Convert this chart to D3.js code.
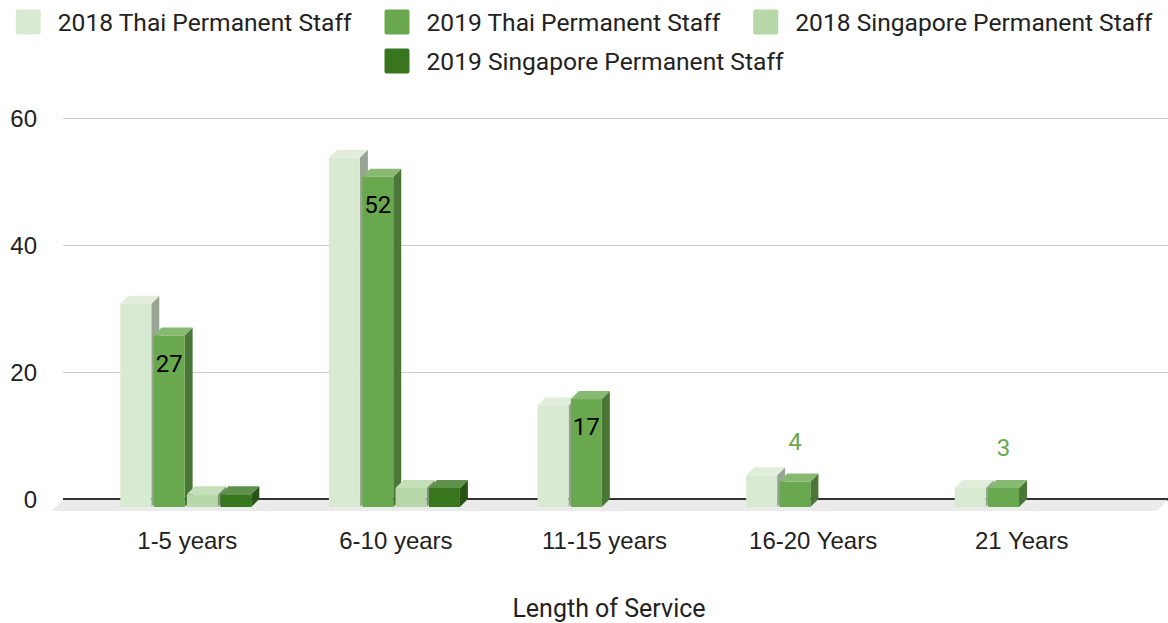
<!DOCTYPE html>
<html lang="en">
<head>
<meta charset="UTF-8">
<title>Length of Service</title>
<style>
  body { margin: 0; background: #fff; }
  svg { display: block; font-family: Roboto, "Noto Sans", sans-serif; }
  .grid line { stroke: #cccccc; shape-rendering: crispEdges; }
  .grid text, .xaxis text { fill: #222; font-size: 24px; }
</style>
</head>
<body>
<div id="chart"></div>
<script src="https://d3js.org/d3.v7.min.js"></script>
<script>
// data
var categories = ["1-5 years", "6-10 years", "11-15 years", "16-20 Years", "21 Years"];
var seriesNames = ["2018 Thai Permanent Staff", "2019 Thai Permanent Staff",
                   "2018 Singapore Permanent Staff", "2019 Singapore Permanent Staff"];
var thai2018 = [32, 55, 16, 5, 3];
var thai2019 = [27, 52, 17, 4, 3];
var sing2018 = [2, 3, null, null, null];
var sing2019 = [2, 3, null, null, null];
var yTicks = [0, 20, 40, 60];
var colors = ["#d9ead3", "#6aa84f", "#b6d7a8", "#38761d"];

var allSeries = [thai2018, thai2019, sing2018, sing2019];

var width = 1168, height = 623;
var depth = 8; // 3d offset
var plot = { left: 63, right: 1168, top: 118, bottom: 499 };

var svg = d3.select("#chart").append("svg")
    .attr("width", width).attr("height", height);

var y = d3.scaleLinear().domain([0, 60]).range([plot.bottom, plot.top]);

// x on the front plane
var x0 = d3.scaleBand().domain(categories).range([83, 1126]);
var groupW = 131;
var x1 = d3.scaleBand().domain(d3.range(seriesNames.length)).range([0, groupW]).paddingInner(0.07);
function groupX(cat) { return x0(cat) + (x0.bandwidth() - groupW) / 2 - 1.5; }

// gridlines + y labels
var grid = svg.append("g")
    .attr("class", "grid")
    .attr("transform", "translate(" + plot.left + ",0)")
    .call(d3.axisLeft(y).tickValues(yTicks).tickSize(-(plot.right - plot.left)).tickPadding(26));
grid.select(".domain").remove();
grid.selectAll("text").attr("dy", "0.35em");
grid.selectAll(".tick").filter(function(d) { return d === 0; }).select("line")
    .style("stroke", "#333").style("stroke-width", 2);

// floor
var fy = y(0);
svg.append("polygon")
    .attr("points", [[plot.left, fy + 1], [plot.right, fy + 1], [plot.right - 12, fy + 12], [plot.left - 12, fy + 12]]
        .map(function(p) { return p.join(","); }).join(" "))
    .attr("fill", "#ebebeb");
// redraw zero line over floor
svg.append("line")
    .attr("x1", plot.left).attr("x2", plot.right)
    .attr("y1", fy).attr("y2", fy)
    .attr("stroke", "#333").attr("stroke-width", 2);

// bars
var bars = svg.append("g").attr("class", "bars");
categories.forEach(function(cat, ci) {
    var gx = groupX(cat);
    allSeries.forEach(function(vals, si) {
        var v = vals[ci];
        if (v == null) return;
        var c = colors[si];
        var xl = gx + x1(si), xr = xl + x1.bandwidth();
        var yt = y(v) + depth, yb = y(0) + depth;
        var g = bars.append("g");
        // side
        g.append("polygon")
            .attr("points", [[xr, yt], [xr + depth, yt - depth], [xr + depth, yb - depth], [xr, yb]].join(" "))
            .attr("fill", d3.color(c).darker(1));
        // top
        g.append("polygon")
            .attr("points", [[xl, yt], [xl + depth, yt - depth], [xr + depth, yt - depth], [xr, yt]].join(" "))
            .attr("fill", d3.interpolateRgb(c, "#ffffff")(0.2));
        // front
        g.append("rect")
            .attr("x", xl).attr("y", yt)
            .attr("width", xr - xl).attr("height", yb - yt)
            .attr("fill", c);
    });
});

// data labels for 2019 Thai
categories.forEach(function(cat, ci) {
    var v = thai2019[ci];
    var cx = groupX(cat) + x1(1) + x1.bandwidth() / 2;
    var yt = y(v) + depth;
    var inside = v >= 10;
    svg.append("text")
        .attr("x", cx)
        .attr("y", inside ? yt + 28 : yt - 40)
        .attr("dy", "0.35em")
        .attr("text-anchor", "middle")
        .attr("font-size", 24)
        .attr("fill", inside ? "#000" : colors[1])
        .text(v);
});

// category axis
var xa = svg.append("g")
    .attr("class", "xaxis")
    .attr("transform", "translate(0," + (y(0) + depth) + ")")
    .call(d3.axisBottom(x0).tickSize(0).tickPadding(25));
xa.select(".domain").remove();

// axis title
svg.append("text")
    .attr("x", 609).attr("y", 617)
    .attr("text-anchor", "middle")
    .attr("font-size", 25)
    .attr("fill", "#222")
    .text("Length of Service");

// legend: three items on the first row, the last one under the second item
var legend = svg.append("g").attr("class", "legend");
var sw = 25, swGap = 17, itemGap = 33;
var items = seriesNames.map(function(name, i) {
    var g = legend.append("g");
    g.append("rect").attr("width", sw).attr("height", sw).attr("rx", 2)
        .attr("y", -sw / 2).attr("fill", colors[i]);
    var t = g.append("text").attr("x", sw + swGap).attr("dy", "0.35em")
        .attr("font-size", 24.6).attr("fill", "#222").text(name);
    return { g: g, w: sw + swGap + t.node().getComputedTextLength() };
});
var row1 = items.slice(0, 3);
var row1W = d3.sum(row1, function(d) { return d.w; }) + itemGap * 2;
var lx0 = Math.max(8, (width - row1W) / 2);
var lx = lx0;
row1.forEach(function(it) {
    it.g.attr("transform", "translate(" + lx + ",22)");
    lx += it.w + itemGap;
});
items[3].g.attr("transform", "translate(" + (lx0 + items[0].w + itemGap) + ",61)");
</script>
</body>
</html>
